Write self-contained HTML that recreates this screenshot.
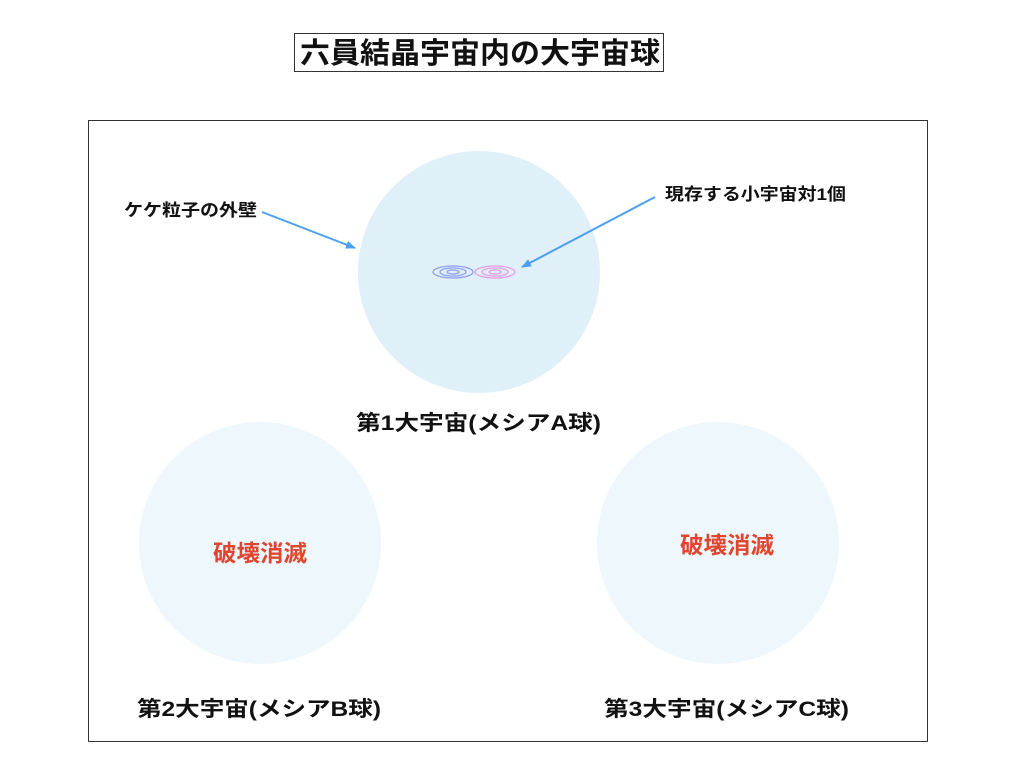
<!DOCTYPE html>
<html><head><meta charset="utf-8"><style>
html,body{margin:0;padding:0;background:#fff;}
svg text{font-family:"Liberation Sans","Noto Sans CJK JP",sans-serif;font-weight:bold;}
</style></head><body>
<svg width="1024" height="768" viewBox="0 0 1024 768" xmlns="http://www.w3.org/2000/svg">
<defs>
<marker id="ah" markerWidth="10" markerHeight="8" refX="9" refY="4" orient="auto" markerUnits="userSpaceOnUse">
<path d="M0,0 L10,4 L0,8 z" fill="#4a9ff0"/></marker>
</defs>
<rect x="0" y="0" width="1024" height="768" fill="#fff"/>
<rect x="294.5" y="33.5" width="369" height="38" fill="#fff" stroke="#333" stroke-width="1"/>
<text x="300" y="63" font-size="29" textLength="360" lengthAdjust="spacingAndGlyphs" fill="#111">六員結晶宇宙内の大宇宙球</text>
<rect x="88.5" y="120.5" width="839" height="621" fill="#fff" stroke="#333" stroke-width="1"/>
<circle cx="479" cy="272" r="121" fill="#dff0f8"/>
<circle cx="260" cy="543" r="121" fill="#eef7fb"/>
<circle cx="718" cy="543" r="121" fill="#eef7fb"/>
<g fill="none" stroke-width="1.3">
<ellipse cx="453" cy="272" rx="20" ry="6" stroke="#8f9ef0"/>
<ellipse cx="453" cy="272" rx="13" ry="4" stroke="#8f9ef0"/>
<ellipse cx="453" cy="272" rx="6" ry="2" stroke="#8f9ef0"/>
<ellipse cx="495" cy="272" rx="20" ry="6" stroke="#e59be8"/>
<ellipse cx="495" cy="272" rx="13" ry="4" stroke="#e59be8"/>
<ellipse cx="495" cy="272" rx="6" ry="2" stroke="#e59be8"/>
</g>
<text x="124" y="216" font-size="17" textLength="133" lengthAdjust="spacingAndGlyphs" fill="#111">ケケ粒子の外壁</text>
<line x1="262" y1="212" x2="355" y2="248" stroke="#4a9ff0" stroke-width="2" marker-end="url(#ah)"/>
<text x="665" y="200" font-size="17" textLength="181" lengthAdjust="spacingAndGlyphs" fill="#111">現存する小宇宙対1個</text>
<line x1="655" y1="197" x2="522" y2="267" stroke="#4a9ff0" stroke-width="2" marker-end="url(#ah)"/>
<text x="356" y="430" font-size="21" textLength="245" lengthAdjust="spacingAndGlyphs" fill="#111">第1大宇宙(メシアA球)</text>
<text x="213" y="561" font-size="23" textLength="94" lengthAdjust="spacingAndGlyphs" fill="#e0452f">破壊消滅</text>
<text x="680" y="553" font-size="23" textLength="94" lengthAdjust="spacingAndGlyphs" fill="#e0452f">破壊消滅</text>
<text x="137" y="716" font-size="21" textLength="244" lengthAdjust="spacingAndGlyphs" fill="#111">第2大宇宙(メシアB球)</text>
<text x="604" y="716" font-size="21" textLength="245" lengthAdjust="spacingAndGlyphs" fill="#111">第3大宇宙(メシアC球)</text>
</svg>
</body></html>
